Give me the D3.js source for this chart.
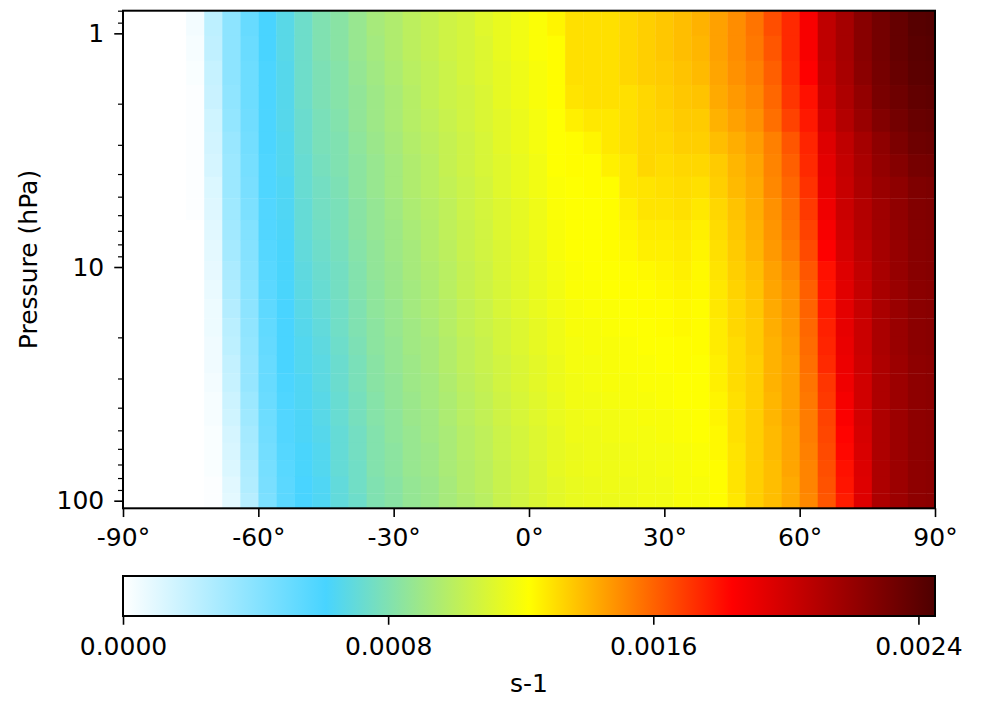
<!DOCTYPE html>
<html>
<head>
<meta charset="utf-8">
<script src="https://cdn.jsdelivr.net/npm/d3@7"></script>
<style>
  body { margin: 0; background: #fff; }
  svg text { font-family: "DejaVu Sans", sans-serif; fill: #000; }
</style>
</head>
<body>
<script>
// latitude of each grid column (deg)
const latitudes = [-90, -86, -82, -78, -74, -70, -66, -62, -58, -54, -50, -46, -42, -38, -34, -30,
  -26, -22, -18, -14, -10, -6, -2, 2, 6, 10, 14, 18, 22, 26, 30, 34, 38, 42, 46, 50, 54, 58, 62,
  66, 70, 74, 78, 82, 86, 90];

// boundaries of the pressure layers (hPa), top to bottom
const pressureEdges = [0.8, 1.024, 1.31, 1.664, 2.108, 2.637, 3.285, 4.108, 5.08, 6.29, 7.66,
  9.43, 11.37, 13.75, 16.58, 19.87, 23.79, 28.5, 34.2, 40.6, 47.8, 56.5, 67.0, 78.9, 93.0, 107.8];

// field values in 1e-5 s-1, one row per layer (top first), one entry per latitude
const values = [
  [0,0,0,0,4,22,38,51,61,67,74,80,83,88,93,96,100,103,106,108,112,115,118,121,125,130,130,130,132,134,136,138,141,145,150,156,165,174,186,206,215,225,232,237,242,243],
  [0,0,0,0,3,21,38,50,61,67,74,80,83,88,92,96,100,103,106,108,111,115,118,121,123,130,130,130,132,134,136,138,140,145,150,155,163,174,186,206,215,225,232,237,241,242],
  [0,0,0,0,2,19,38,49,60,66,74,79,82,87,91,95,99,102,105,108,111,114,117,120,123,130,130,130,132,134,135,137,139,144,149,153,161,173,184,204,214,224,231,236,240,241],
  [0,0,0,0,1,18,37,49,60,66,74,79,82,86,90,94,98,102,105,107,110,114,117,120,123,129,130,130,130,132,134,136,137,143,147,151,159,171,180,202,212,221,230,234,238,239],
  [0,0,0,0,1,16,36,48,60,66,73,78,81,86,90,94,98,101,104,107,110,113,116,119,122,126,128,128,130,132,133,135,135,141,145,149,157,168,178,199,210,219,227,232,236,237],
  [0,0,0,0,1,15,34,47,60,65,73,78,80,85,89,93,97,100,103,106,109,113,116,119,122,123,125,128,130,132,132,134,134,138,142,146,153,163,175,195,206,215,223,229,234,235],
  [0,0,0,0,1,14,33,46,59,65,72,77,80,84,88,92,96,99,103,106,109,112,115,118,122,123,123,126,128,132,131,132,132,135,140,144,152,161,174,193,204,213,221,226,231,232],
  [0,0,0,0,1,12,33,45,59,64,72,76,79,84,88,92,96,99,102,105,108,112,115,118,121,122,123,123,128,129,130,131,130,134,139,143,151,159,172,192,203,212,219,223,228,229],
  [0,0,0,0,1,11,32,44,58,64,71,76,78,83,87,91,95,98,101,105,108,111,114,117,121,122,122,123,126,129,129,130,128,132,137,142,149,157,170,189,202,210,217,222,227,228],
  [0,0,0,0,0,10,31,42,58,63,71,75,78,83,87,90,94,97,101,104,107,111,114,117,120,122,122,123,125,127,127,128,126,131,136,141,148,156,168,186,200,209,216,221,226,227],
  [0,0,0,0,0,9,30,41,57,62,70,74,77,82,86,90,93,97,100,104,107,110,113,116,120,122,122,123,124,126,126,127,125,130,135,140,147,154,166,184,198,207,215,220,225,226],
  [0,0,0,0,0,8,28,40,56,62,69,73,76,81,86,89,93,96,99,103,106,110,113,116,119,121,122,122,123,124,125,126,124,129,134,138,145,151,163,180,195,205,214,220,225,226],
  [0,0,0,0,0,7,27,39,55,62,68,72,76,81,85,89,92,95,99,103,106,109,112,115,118,121,121,122,123,123,124,125,124,128,133,137,144,149,161,179,194,204,214,219,224,225],
  [0,0,0,0,0,6,25,38,54,61,67,71,75,80,85,88,92,95,98,102,105,109,112,115,118,120,121,121,122,123,123,124,123,128,132,136,143,148,160,178,193,203,213,219,224,225],
  [0,0,0,0,0,6,23,37,53,61,66,70,75,80,84,88,91,94,98,102,105,108,111,114,117,120,120,121,122,122,123,124,123,127,132,135,142,147,159,176,192,202,213,219,224,225],
  [0,0,0,0,0,5,22,36,52,61,65,69,74,79,84,87,91,93,97,101,104,108,111,114,117,119,120,120,121,122,122,123,123,127,131,135,141,146,158,175,191,202,213,219,224,225],
  [0,0,0,0,0,5,20,35,51,61,65,68,73,78,83,87,90,93,97,101,104,107,110,113,116,119,119,120,121,121,122,123,122,126,131,134,141,145,157,174,190,201,212,218,223,224],
  [0,0,0,0,0,4,19,35,51,60,64,68,73,78,83,86,90,92,96,100,103,107,110,113,116,118,119,120,120,121,121,122,122,126,131,134,141,145,156,171,189,200,212,218,223,224],
  [0,0,0,0,0,3,17,33,50,59,64,67,72,77,82,86,89,92,95,99,102,106,109,112,115,118,118,119,120,120,121,122,122,125,130,134,140,145,155,170,187,200,212,218,223,224],
  [0,0,0,0,0,3,16,32,49,58,63,67,72,77,82,85,89,91,95,99,102,106,109,112,115,117,118,118,119,120,120,121,122,125,130,134,140,145,154,168,185,199,212,218,223,224],
  [0,0,0,0,0,2,14,30,48,58,63,66,71,76,81,85,88,91,94,98,101,105,108,111,114,117,117,118,119,119,120,121,122,124,130,134,139,144,154,167,183,198,212,218,223,224],
  [0,0,0,0,0,2,13,29,47,57,62,65,71,76,81,84,88,90,94,98,101,105,108,111,114,116,117,117,118,119,119,120,121,124,129,134,139,144,153,166,182,197,212,218,223,224],
  [0,0,0,0,0,2,12,27,46,56,62,65,71,75,81,84,88,90,94,97,100,104,107,110,114,116,117,117,118,118,119,120,121,123,129,134,138,144,152,165,180,196,212,218,223,224],
  [0,0,0,0,0,1,10,26,45,55,61,64,70,75,80,83,87,89,93,97,100,104,107,110,113,115,116,117,117,118,118,120,120,123,129,134,138,143,152,164,179,195,212,218,223,224],
  [0,0,0,0,0,1,9,24,44,55,61,64,70,74,80,83,87,89,93,96,99,104,107,110,113,115,116,116,117,118,118,120,120,123,128,134,138,143,151,163,177,195,212,218,223,224]
];

const latTicks = [-90, -60, -30, 0, 30, 60, 90];
const pressureTicks = [1, 10, 100];
const pressureMinorTicks = [0.8, 0.9, 2, 3, 4, 5, 6, 7, 8, 9, 20, 30, 40, 50, 60, 70, 80, 90];
const colorbarTicks = [0, 0.0008, 0.0016, 0.0024];
const colorStops = [0, 0.0006125, 0.001225, 0.0018375, 0.00245];
const colorList = ["#ffffff", "#48d4ff", "#ffff00", "#ff0000", "#4e0000"];
const unitLabel = "s-1";
const yLabel = "Pressure (hPa)";

var width = 987, height = 701;
var plotLeft = 123, plotRight = 935, plotTop = 10.7, plotBottom = 508.3;
var cbTop = 576, cbBottom = 616;
var fontSize = 25, tickLen = 8.75, minorLen = 5;

var svg = d3.select("body").append("svg")
    .attr("width", width)
    .attr("height", height);

var x = d3.scaleLinear().domain([-90, 90]).range([plotLeft, plotRight]);
var y = d3.scaleLog()
    .domain([pressureEdges[0], pressureEdges[pressureEdges.length - 1]])
    .range([plotTop, plotBottom]);
var color = d3.scaleLinear().domain(colorStops).range(colorList).clamp(true);

// cells, edges half way between latitudes, clipped to the axes
var cells = [];
values.forEach(function (row, r) {
    row.forEach(function (v, k) {
        cells.push({ lat: latitudes[k], p0: pressureEdges[r], p1: pressureEdges[r + 1], v: v * 1e-5 });
    });
});

svg.append("g")
    .selectAll("rect")
    .data(cells)
    .enter().append("rect")
    .attr("x", d => x(Math.max(d.lat - 2, -90)))
    .attr("width", d => x(Math.min(d.lat + 2, 90)) - x(Math.max(d.lat - 2, -90)) + 0.4)
    .attr("y", d => y(d.p0))
    .attr("height", d => y(d.p1) - y(d.p0) + 0.4)
    .attr("fill", d => color(d.v));

// x axis
var xAxis = svg.append("g")
    .attr("transform", "translate(0," + plotBottom + ")")
    .call(d3.axisBottom(x).tickValues(latTicks).tickSize(tickLen).tickPadding(11)
        .tickFormat(d => d + "°"));

// y axis, major and minor ticks
var yAxis = svg.append("g")
    .attr("transform", "translate(" + plotLeft + ",0)")
    .call(d3.axisLeft(y).tickValues(pressureTicks).tickSize(tickLen).tickPadding(10)
        .tickFormat(d3.format("d")));
var yMinor = svg.append("g")
    .attr("transform", "translate(" + plotLeft + ",0)")
    .call(d3.axisLeft(y).tickValues(pressureMinorTicks).tickSize(minorLen).tickFormat(""));

[xAxis, yAxis, yMinor].forEach(function (g) {
    g.select(".domain").remove();
    g.attr("font-size", fontSize).attr("font-family", "DejaVu Sans");
    g.selectAll(".tick line").attr("stroke", "#000").attr("stroke-width", 1.6);
});
yMinor.selectAll(".tick line").attr("stroke-width", 1.2);

svg.append("rect")
    .attr("x", plotLeft).attr("y", plotTop)
    .attr("width", plotRight - plotLeft).attr("height", plotBottom - plotTop)
    .attr("fill", "none").attr("stroke", "#000").attr("stroke-width", 2);

svg.append("text")
    .attr("transform", "translate(37," + (plotTop + plotBottom) / 2 + ") rotate(-90)")
    .attr("text-anchor", "middle")
    .attr("font-size", fontSize)
    .text(yLabel);

// colorbar
var cb = d3.scaleLinear().domain([colorStops[0], colorStops[colorStops.length - 1]]).range([plotLeft, plotRight]);

var grad = svg.append("defs").append("linearGradient")
    .attr("id", "cbgrad")
    .attr("x1", "0%").attr("x2", "100%").attr("y1", "0%").attr("y2", "0%");
grad.selectAll("stop")
    .data(colorStops)
    .enter().append("stop")
    .attr("offset", d => (d / colorStops[colorStops.length - 1] * 100) + "%")
    .attr("stop-color", d => color(d));

svg.append("rect")
    .attr("x", plotLeft).attr("y", cbTop)
    .attr("width", plotRight - plotLeft).attr("height", cbBottom - cbTop)
    .attr("fill", "url(#cbgrad)")
    .attr("stroke", "#000").attr("stroke-width", 2);

var cbAxis = svg.append("g")
    .attr("transform", "translate(0," + cbBottom + ")")
    .call(d3.axisBottom(cb).tickValues(colorbarTicks).tickSize(tickLen).tickPadding(12)
        .tickFormat(d3.format(".4f")));
cbAxis.select(".domain").remove();
cbAxis.attr("font-size", fontSize).attr("font-family", "DejaVu Sans");
cbAxis.selectAll(".tick line").attr("stroke", "#000").attr("stroke-width", 1.6);

svg.append("text")
    .attr("x", (plotLeft + plotRight) / 2)
    .attr("y", 692)
    .attr("text-anchor", "middle")
    .attr("font-size", fontSize)
    .text(unitLabel);
</script>
</body>
</html>
